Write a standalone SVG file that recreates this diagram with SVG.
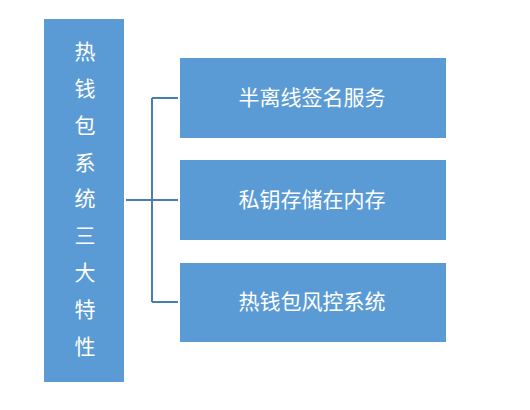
<svg xmlns="http://www.w3.org/2000/svg" width="530" height="410" viewBox="0 0 530 410">
<style>
.box{fill:#5b9bd5}
.t{fill:#ffffff;font-family:"Noto Sans CJK SC","Liberation Sans",sans-serif;text-anchor:middle}
.l{font-size:21px}
.r{font-size:21px}
.c{stroke:#4a7eb3;stroke-width:2;fill:none}
</style>
<rect width="530" height="410" fill="#ffffff"/>
<g id="root">
<rect class="box" x="44" y="19" width="80" height="363"/>
<text class="t l" x="85" y="59">热</text>
<text class="t l" x="85" y="96">钱</text>
<text class="t l" x="85" y="133">包</text>
<text class="t l" x="85" y="170">系</text>
<text class="t l" x="85" y="206">统</text>
<text class="t l" x="85" y="243">三</text>
<text class="t l" x="85" y="280">大</text>
<text class="t l" x="85" y="317">特</text>
<text class="t l" x="85" y="354">性</text>
</g>
<g id="connectors">
<path class="c" d="M126,200 H178 M152,98 V302 M152,98 H178 M152,302 H178"/>
</g>
<g id="n1">
<rect class="box" x="180" y="58" width="266" height="80"/>
<text class="t r" x="312" y="105">半离线签名服务</text>
</g>
<g id="n2">
<rect class="box" x="180" y="160" width="266" height="80"/>
<text class="t r" x="312" y="207">私钥存储在内存</text>
</g>
<g id="n3">
<rect class="box" x="180" y="263" width="266" height="79"/>
<text class="t r" x="312" y="309">热钱包风控系统</text>
</g>
</svg>
